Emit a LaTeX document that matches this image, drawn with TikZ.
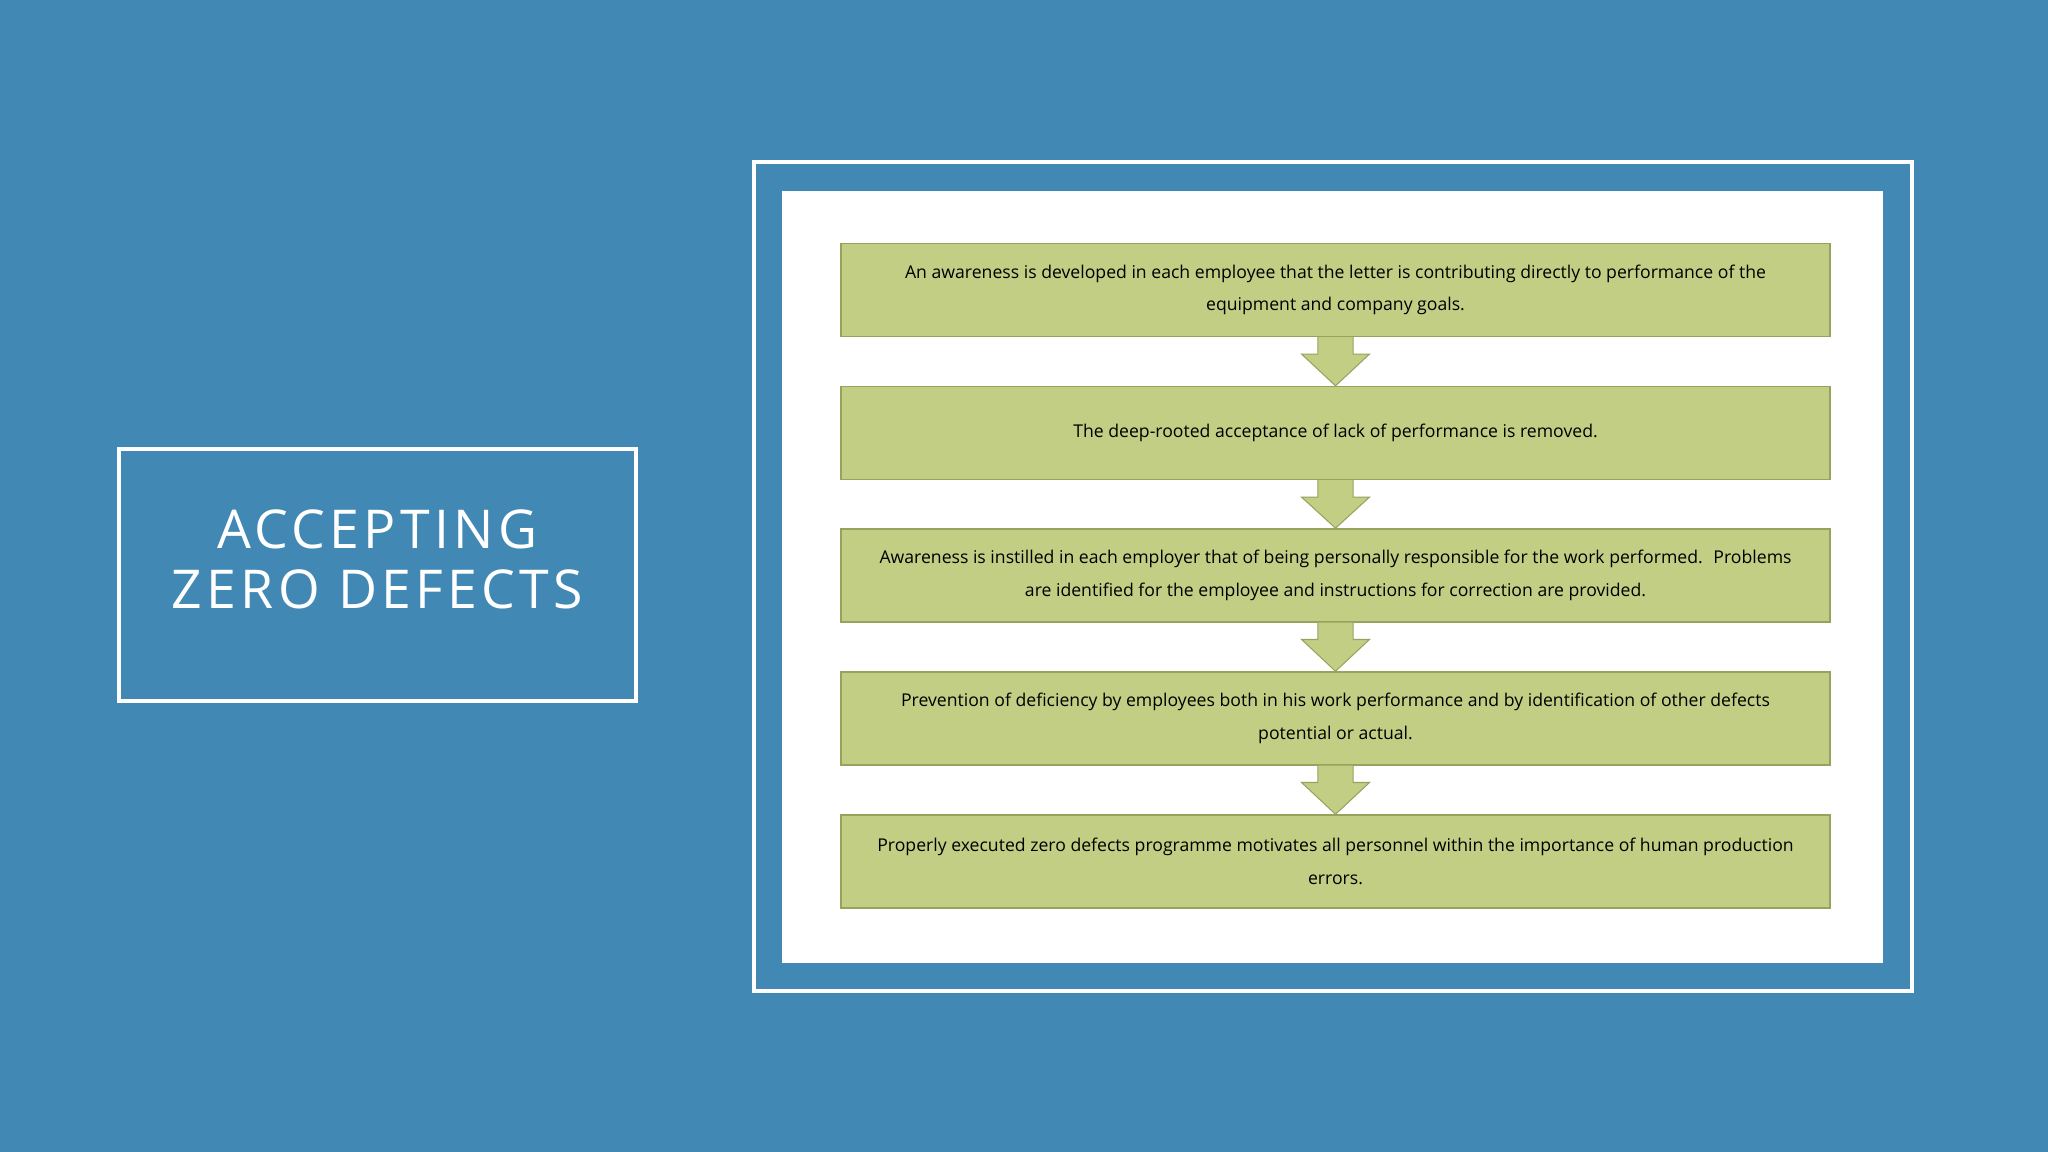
\documentclass[tikz,border=0pt]{standalone}
\usepackage{fontspec}
\setmainfont{Open Sans}
\definecolor{bg}{HTML}{4189B4}
\definecolor{gr}{HTML}{C3CE85}
\definecolor{grb}{HTML}{97A25E}
\begin{document}
\begin{tikzpicture}[x=0.5pt,y=-0.5pt,
  stepbox/.style={draw=grb,line width=0.6pt,fill=gr,minimum width=378.5pt,minimum height=35.5pt,align=center,font=\fontsize{6.75}{12.5}\selectfont,inner sep=0pt},
  arr/.style={fill=gr,draw=grb,line width=0.4pt}]
\fill[bg] (0,0) rectangle (1568,882);
\useasboundingbox (0,0) rectangle (1568,882);
\draw[white,line width=1.6pt] (91,344) rectangle (487,537);
\node[white,align=center,font=\fontsize{20.5}{23}\selectfont] (title) at (289,428) {\addfontfeature{LetterSpace=8}ACCEPTING\\\addfontfeature{LetterSpace=8}ZERO DEFECTS};
\draw[white,line width=1.6pt] (577,124) rectangle (1464,759);
\fill[white] (599,146) rectangle (1442,737);
\node[stepbox] (s1) at (1022.5,222) {An awareness is developed in each employee that the letter is contributing directly to performance of the\\ equipment and company goals.};
\node[stepbox] (s2) at (1022.5,331.5) {The deep-rooted acceptance of lack of performance is removed.};
\node[stepbox] (s3) at (1022.5,440.5) {Awareness is instilled in each employer that of being personally responsible for the work performed.~ Problems\\ are identified for the employee and instructions for correction are provided.};
\node[stepbox] (s4) at (1022.5,550) {Prevention of deficiency by employees both in his work performance and by identification of other defects\\ potential or actual.};
\node[stepbox] (s5) at (1022.5,659.5) {Properly executed zero defects programme motivates all personnel within the importance of human production\\ errors.};
\foreach \a/\b in {s1/s2,s2/s3,s3/s4,s4/s5}{
  \path (\a.south) coordinate (t) (\b.north) coordinate (u);
  \draw[arr] ([xshift=-6.75pt]t) -- ([xshift=-6.75pt,yshift=-6.5pt]t) -- ([xshift=-13pt,yshift=-6.5pt]t) -- (u) -- ([xshift=13pt,yshift=-6.5pt]t) -- ([xshift=6.75pt,yshift=-6.5pt]t) -- ([xshift=6.75pt]t);
}
\end{tikzpicture}
\end{document}
